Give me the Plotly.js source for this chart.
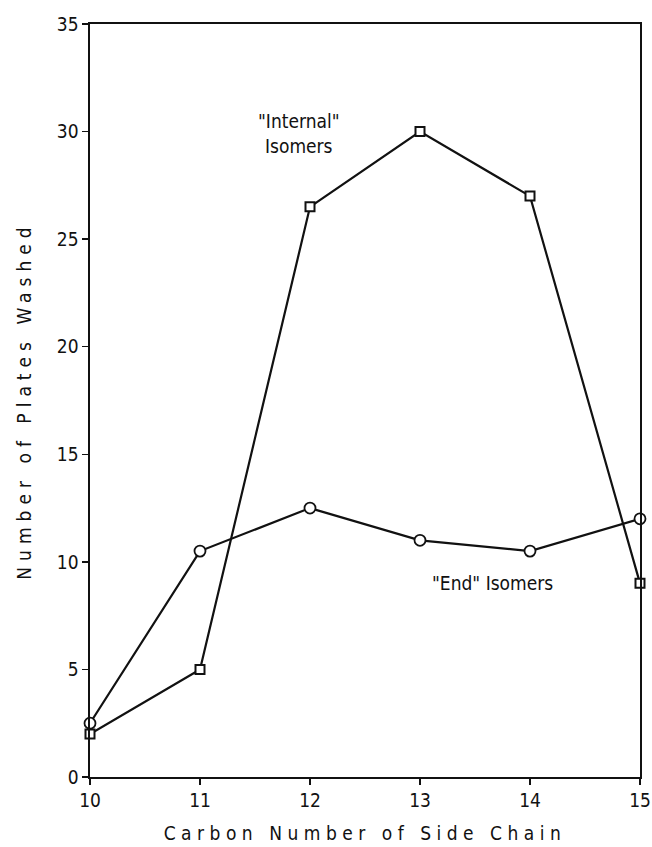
<!DOCTYPE html>
<html>
<head>
<meta charset="utf-8">
<script src="https://cdn.plot.ly/plotly-3.0.1.min.js"></script>
<style>
html,body{margin:0;padding:0;background:#fff;}
#chart{width:652px;height:847px;}
.xtitle{letter-spacing:5.5px;}
.ytitle{letter-spacing:6px;}
</style>
</head>
<body>
<div id="chart"></div>
<script>
const carbonNumbers = [10, 11, 12, 13, 14, 15];
const internalIsomers = [2, 5, 26.5, 30, 27, 9];
const endIsomers = [2.5, 10.5, 12.5, 11, 10.5, 12];
const xTickVals = [10, 11, 12, 13, 14, 15];
const yTickVals = [0, 5, 10, 15, 20, 25, 30, 35];

const fam = 'DejaVu Sans Condensed, DejaVu Sans, sans-serif';
const ink = '#111';

const traces = [
  {
    x: carbonNumbers, y: internalIsomers, type: 'scatter', mode: 'lines+markers',
    line: {color: ink, width: 2.2},
    marker: {symbol: 'square', size: 9, color: '#fff', line: {color: ink, width: 2}},
    cliponaxis: false, hoverinfo: 'skip'
  },
  {
    x: carbonNumbers, y: endIsomers, type: 'scatter', mode: 'lines+markers',
    line: {color: ink, width: 2.2},
    marker: {symbol: 'circle', size: 11, color: '#fff', line: {color: ink, width: 1.8}},
    cliponaxis: false, hoverinfo: 'skip'
  }
];

const layout = {
  width: 652, height: 847,
  margin: {l: 90, r: 12, t: 24, b: 70},
  paper_bgcolor: '#fff', plot_bgcolor: '#fff',
  showlegend: false,
  font: {family: fam, color: ink},
  xaxis: {
    range: [10, 15], tickvals: xTickVals, ticktext: xTickVals.map(String),
    showgrid: false, zeroline: false, showline: true, linecolor: ink, linewidth: 1.6,
    mirror: true, ticks: 'outside', ticklen: 6, tickcolor: ink, tickwidth: 1.3,
    tickfont: {family: fam, size: 19, color: ink},
    title: {text: 'Carbon Number of Side Chain', font: {family: fam, size: 19, color: ink}, standoff: 16}
  },
  yaxis: {
    range: [0, 35], tickvals: yTickVals, ticktext: yTickVals.map(String),
    showgrid: false, zeroline: false, showline: true, linecolor: ink, linewidth: 1.6,
    mirror: true, ticks: 'outside', ticklen: 6, tickcolor: ink, tickwidth: 1.3,
    tickfont: {family: fam, size: 19, color: ink},
    title: {text: 'Number of Plates Washed', font: {family: fam, size: 19, color: ink}, standoff: 20}
  },
  annotations: [
    {x: 11.9, y: 29.9, xref: 'x', yref: 'y', text: '"Internal"<br>Isomers', showarrow: false,
     font: {family: fam, size: 19, color: ink}, align: 'center'},
    {x: 13.66, y: 9.0, xref: 'x', yref: 'y', text: '"End" Isomers', showarrow: false,
     font: {family: fam, size: 19, color: ink}, align: 'center'}
  ]
};

Plotly.newPlot('chart', traces, layout, {staticPlot: true, displayModeBar: false});
</script>
</body>
</html>
